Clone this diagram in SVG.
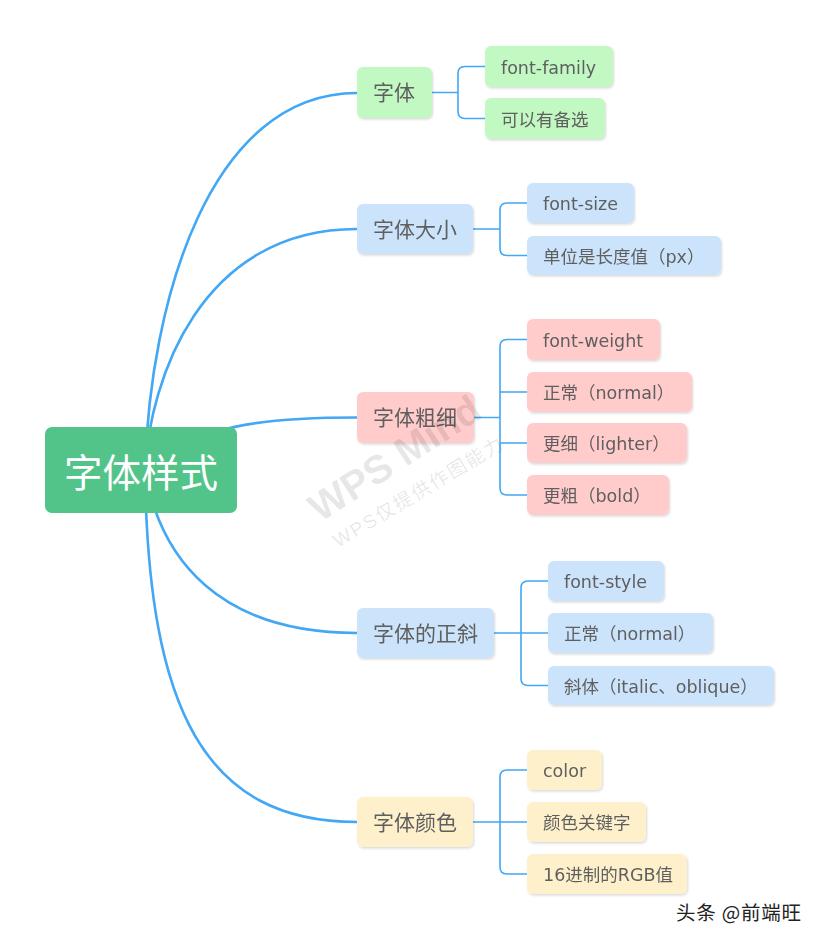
<svg xmlns="http://www.w3.org/2000/svg" width="824" height="943" viewBox="0 0 824 943">
<defs>
<filter id="sh" x="-10%" y="-20%" width="130%" height="150%">
<feDropShadow dx="1" dy="1.5" stdDeviation="1.2" flood-color="#000" flood-opacity="0.15"/>
</filter>
<style>
.t{font-family:"DejaVu Sans","Noto Sans CJK SC",sans-serif;fill:#5f5f5f}
.l1{font-size:21px}
.l2{font-size:17.5px}
.main{fill:none;stroke:#42a7f5;stroke-width:2.6;stroke-linecap:round}
.br{fill:none;stroke:#42a7f5;stroke-width:1.6}
.g{fill:#c2f8c1}
.b{fill:#cce4fb}
.p{fill:#ffcccb}
.y{fill:#fff0cc}
.wm{font-family:"Liberation Sans","Noto Sans CJK SC",sans-serif;fill:#000;fill-opacity:0.1}
</style>
</defs>
<rect width="824" height="943" fill="#fff"/>
<g id="connectors">
<path class="main" d="M145,470 C150,300 210,93 357,93"/>
<path class="main" d="M145,470 C150,380 200,229 357,229"/>
<path class="main" d="M141,470 C200,425 260,417.5 357,417.5"/>
<path class="main" d="M145,470 C160,560 220,633 357,633"/>
<path class="main" d="M145,470 C148,710 205,822 357,822"/>
<path class="br" d="M432,92.5 H458 M485,66.5 H465 Q458,66.5 458,73.5 V111.5 Q458,118.5 465,118.5 H485"/>
<path class="br" d="M473,229 H500 M527,203 H507 Q500,203 500,210 V248.5 Q500,255.5 507,255.5 H527"/>
<path class="br" d="M474,417.5 H500 M527,339.5 H507 Q500,339.5 500,346.5 V488 Q500,495 507,495 H527 M500,392 H527 M500,443 H527"/>
<path class="br" d="M494,633 H521 M548,581 H528 Q521,581 521,588 V678.5 Q521,685.5 528,685.5 H548 M521,633 H548"/>
<path class="br" d="M473,822 H500 M527,770 H507 Q500,770 500,777 V867 Q500,874 507,874 H527 M500,822 H527"/>
</g>
<g id="root">
<rect x="45" y="427" width="192" height="86" rx="7" fill="#52c48a"/>
<text x="141" y="487" text-anchor="middle" font-family="Noto Sans CJK SC,sans-serif" font-size="38.5" fill="#fff">字体样式</text>
</g>
<g id="n1" filter="url(#sh)">
<rect class="g" x="357" y="67" width="75" height="51" rx="6"/>
<text class="t l1" x="373" y="100">字体</text>
</g>
<g id="n1a" filter="url(#sh)">
<rect class="g" x="485" y="46" width="128" height="41" rx="6"/>
<text class="t l2" x="501" y="73.5">font-family</text>
</g>
<g id="n1b" filter="url(#sh)">
<rect class="g" x="485" y="98" width="120" height="41" rx="6"/>
<text class="t l2" x="501" y="125.5">可以有备选</text>
</g>
<g id="n2" filter="url(#sh)">
<rect class="b" x="357" y="204" width="116" height="50" rx="6"/>
<text class="t l1" x="373" y="236.5">字体大小</text>
</g>
<g id="n2a" filter="url(#sh)">
<rect class="b" x="527" y="183" width="107" height="40" rx="6"/>
<text class="t l2" x="543" y="210">font-size</text>
</g>
<g id="n2b" filter="url(#sh)">
<rect class="b" x="527" y="236" width="194" height="39" rx="6"/>
<text class="t l2" x="543" y="262.5">单位是长度值（px）</text>
</g>
<g id="n3" filter="url(#sh)">
<rect class="p" x="357" y="392" width="117" height="51" rx="6"/>
<text class="t l1" x="373" y="425">字体粗细</text>
</g>
<g id="n3a" filter="url(#sh)">
<rect class="p" x="527" y="319" width="133" height="41" rx="6"/>
<text class="t l2" x="543" y="346.5">font-weight</text>
</g>
<g id="n3b" filter="url(#sh)">
<rect class="p" x="527" y="372" width="165" height="40" rx="6"/>
<text class="t l2" x="543" y="399">正常（normal）</text>
</g>
<g id="n3c" filter="url(#sh)">
<rect class="p" x="527" y="423" width="160" height="40" rx="6"/>
<text class="t l2" x="543" y="450">更细（lighter）</text>
</g>
<g id="n3d" filter="url(#sh)">
<rect class="p" x="527" y="475" width="142" height="40" rx="6"/>
<text class="t l2" x="543" y="502">更粗（bold）</text>
</g>
<g id="n4" filter="url(#sh)">
<rect class="b" x="357" y="608" width="137" height="50" rx="6"/>
<text class="t l1" x="373" y="640.5">字体的正斜</text>
</g>
<g id="n4a" filter="url(#sh)">
<rect class="b" x="548" y="561" width="116" height="40" rx="6"/>
<text class="t l2" x="564" y="588">font-style</text>
</g>
<g id="n4b" filter="url(#sh)">
<rect class="b" x="548" y="613" width="165" height="40" rx="6"/>
<text class="t l2" x="564" y="640">正常（normal）</text>
</g>
<g id="n4c" filter="url(#sh)">
<rect class="b" x="548" y="666" width="226" height="39" rx="6"/>
<text class="t l2" x="564" y="692.5">斜体（italic、oblique）</text>
</g>
<g id="n5" filter="url(#sh)">
<rect class="y" x="357" y="797" width="116" height="50" rx="6"/>
<text class="t l1" x="373" y="829.5">字体颜色</text>
</g>
<g id="n5a" filter="url(#sh)">
<rect class="y" x="527" y="750" width="75" height="40" rx="6"/>
<text class="t l2" x="543" y="777">color</text>
</g>
<g id="n5b" filter="url(#sh)">
<rect class="y" x="527" y="802" width="119" height="40" rx="6"/>
<text class="t l2" x="543" y="829">颜色关键字</text>
</g>
<g id="n5c" filter="url(#sh)">
<rect class="y" x="527" y="854" width="160" height="40" rx="6"/>
<text class="t l2" x="543" y="881">16进制的RGB值</text>
</g>
<g id="watermark">
<text class="wm" x="0" y="0" font-size="40" font-weight="bold" transform="translate(320,523) rotate(-33)">WPS Mind</text>
<text class="wm" x="0" y="0" font-size="19" letter-spacing="2" transform="translate(338,548) rotate(-31)">WPS仅提供作图能力</text>
</g>
<g id="footer">
<text x="676" y="920" font-family="Noto Sans CJK SC,sans-serif" font-size="19.5" letter-spacing="0.8" fill="#222">头条 @前端旺</text>
</g>
</svg>
